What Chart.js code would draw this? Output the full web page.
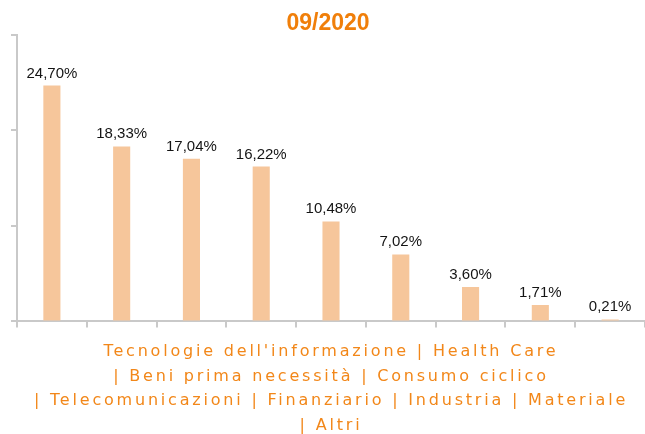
<!DOCTYPE html>
<html>
<head>
<meta charset="utf-8">
<script src="https://cdn.jsdelivr.net/npm/chart.js@4"></script>
<style>
    html, body { margin: 0; padding: 0; background: #ffffff; }
    canvas { display: block; }
</style>
</head>
<body>
<canvas id="sectorCanvas" width="645" height="434"></canvas>
<script>
var chartTitle = "09/2020";

var sectors = [
    "Tecnologie dell'informazione",
    "Health Care",
    "Beni prima necessità",
    "Consumo ciclico",
    "Telecomunicazioni",
    "Finanziario",
    "Industria",
    "Materiale",
    "Altri"
];

var weights = [24.70, 18.33, 17.04, 16.22, 10.48, 7.02, 3.60, 1.71, 0.21];

var yTicks = [0, 10, 20, 30];

var colors = {
    bar: 'rgb(246, 198, 155)',
    axis: 'rgb(201, 201, 201)',
    title: 'rgb(240, 127, 10)',
    caption: 'rgb(242, 135, 25)',
    label: 'rgb(20, 20, 20)'
};

// caption under the axis, same line breaks as the original
var captionLines = [
    sectors.slice(0, 2).join(" | "),
    "| " + sectors.slice(2, 4).join(" | "),
    "| " + sectors.slice(4, 8).join(" | "),
    "| " + sectors[8]
];

function formatPct(v) {
    return v.toFixed(2).replace(".", ",") + "%";
}

var valueLabels = {
    id: 'valueLabels',
    beforeDraw: function (chart) {
        // letter spaced caption, like the source
        var sc = chart.scales.x;
        if (!sc._spaced) {
            var orig = sc.drawTitle;
            sc.drawTitle = function () {
                this.ctx.save();
                this.ctx.letterSpacing = '2.8px';
                orig.call(this);
                this.ctx.restore();
            };
            sc._spaced = true;
        }
    },
    afterDatasetsDraw: function (chart) {
        var ctx = chart.ctx;
        var meta = chart.getDatasetMeta(0);
        ctx.save();
        ctx.font = '15px "Liberation Sans", Arial, sans-serif';
        ctx.fillStyle = colors.label;
        ctx.textAlign = 'center';
        ctx.textBaseline = 'alphabetic';
        meta.data.forEach(function (bar, i) {
            ctx.fillText(formatPct(weights[i]), bar.x, bar.y - 8);
        });
        ctx.restore();
    }
};

window.onload = function () {
    var ctx = document.getElementById("sectorCanvas").getContext("2d");

    new Chart(ctx, {
        type: "bar",
        data: {
            labels: sectors,
            datasets: [
                {
                    label: chartTitle,
                    data: weights,
                    backgroundColor: colors.bar,
                    borderWidth: 0,
                    barPercentage: 1,
                    categoryPercentage: 0.245
                }
            ]
        },
        options: {
            responsive: false,
            animation: false,
            layout: {
                padding: { left: 11, right: 0, top: 0, bottom: -4 }
            },
            plugins: {
                legend: { display: false },
                tooltip: { enabled: false },
                title: {
                    display: true,
                    text: chartTitle,
                    color: colors.title,
                    font: { family: '"Liberation Sans", Arial, sans-serif', size: 23, weight: 'bold', lineHeight: 1 },
                    padding: { top: 12, bottom: 0 }
                }
            },
            scales: {
                x: {
                    grid: {
                        display: true,
                        drawOnChartArea: false,
                        offset: true,
                        tickLength: 6,
                        color: colors.axis,
                        lineWidth: 2
                    },
                    border: { color: colors.axis, width: 2 },
                    ticks: { display: false },
                    title: {
                        display: true,
                        text: captionLines,
                        color: colors.caption,
                        font: { family: '"DejaVu Sans", Verdana, sans-serif', size: 16, lineHeight: 1.54 },
                        padding: { top: 12, bottom: 0 }
                    }
                },
                y: {
                    min: yTicks[0],
                    max: yTicks[yTicks.length - 1],
                    ticks: { display: false, stepSize: yTicks[1] - yTicks[0] },
                    grid: {
                        display: true,
                        drawOnChartArea: false,
                        tickLength: 6,
                        color: colors.axis,
                        lineWidth: 2
                    },
                    border: { color: colors.axis, width: 2 }
                }
            }
        },
        plugins: [valueLabels]
    });
};
</script>
</body>
</html>
